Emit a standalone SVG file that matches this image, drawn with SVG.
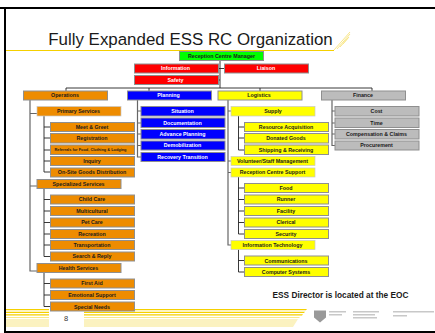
<svg xmlns="http://www.w3.org/2000/svg" width="435" height="333" viewBox="0 0 435 333">
<style>
text{font-family:"Liberation Sans",Arial,sans-serif}
.b{stroke:#8f8f8f;stroke-width:1}
.n{stroke:#c9c9c9;stroke-width:.7}
.o{fill:#ee8c00}.y{fill:#ffff00}.u{fill:#0000ff}.r{fill:#ff0000}.g{fill:#bcbcbc}.l{fill:#00ff00}
.t{font-size:5.3px;font-weight:bold;text-anchor:middle;fill:#1a1a1a}
.w{fill:#fff}
.c{fill:none;stroke:#222;stroke-width:.9}
.d{fill:none;stroke:#666;stroke-width:1.2}
.s{fill:#f5d000}
</style>
<defs>
<filter id="bl" x="-5%" y="-20%" width="110%" height="140%"><feGaussianBlur stdDeviation="0.7"/></filter>
</defs>
<rect width="435" height="333" fill="#fff"/>
<g id="frame">
<rect x="0" y="7" width="435" height="2" fill="#000"/>
<rect x="4" y="7" width="2" height="326" fill="#000"/>
<rect x="4" y="331" width="431" height="2" fill="#000"/>
</g>
<g id="decor">
<path d="M6 50.500H334" fill="none" stroke="#f5d000" stroke-width="1"/>
<path d="M334 50l16-18M337 49l13-15M340 47l9-10M343 44l5-6" fill="none" stroke="#f9e78a" stroke-width="1"/>
<path d="M6 309H49V310.300H6ZM84 309H307L306 310.300H84Z" class="s"/>
<path d="M6 311.800H49V313H6ZM84 311.800H305L304 313H84Z" class="s"/>
<path d="M6 314.300H49V315.500H6ZM84 314.300H303L302 315.500H84Z" class="s"/>
<path d="M6 317H49V318H6ZM84 317H300L299 318H84Z" fill="#f8e88a"/>
<path d="M6 319H49V327H6ZM84 319H298L293 327H84Z" fill="#fbf2c0"/>
<text x="66" y="321" font-size="7.500" text-anchor="middle" fill="#333">8</text>
</g>
<g id="logo" filter="url(#bl)" fill="#c8c8c8">
<path d="M314 310.500h12v7l-6 5-6-5Z" fill="#999"/>
<rect x="329" y="311" width="17" height="1.500"/>
<rect x="329" y="314" width="13" height="1.500"/>
<rect x="353" y="311" width="26" height="1.500"/>
<rect x="353" y="314" width="22" height="1.500"/>
<rect x="353" y="317" width="24" height="1.500"/>
<rect x="393" y="311" width="41" height="1.500"/>
<rect x="393" y="315" width="14" height="1.500"/>
</g>
<g id="connectors">
<path class="c" d="M220 60.500V88M218 68.500H224M218 80H220M66 91V88H372V91M149 88V91M260 88V91"/>
<path class="d" d="M30 100V271H37M30 113.500H37M30 186H37"/>
<path class="c" d="M44 116V172H50M44 127H50M44 138H50M44 150H50M44 161H50"/>
<path class="c" d="M44 188.500V256.500H50M44 199.500H50M44 211H50M44 222.500H50M44 234H50M44 245H50"/>
<path class="c" d="M44 272.500V306.500H50M44 283.500H50M44 295H50"/>
<path class="d" d="M137.500 100V157H141M137.500 111H141M137.500 123H141M137.500 134H141M137.500 145.500H141"/>
<path class="d" d="M228 100V245H231M228 111H231M228 161H231M228 172.500H231"/>
<path class="c" d="M238.500 116V150H244.500M238.500 127H244.500M238.500 138H244.500"/>
<path class="c" d="M238.500 177V234H244.500M238.500 188H244.500M238.500 199.500H244.500M238.500 211H244.500M238.500 222.500H244.500"/>
<path class="c" d="M238.500 249.500V272H244.500M238.500 260.500H244.500"/>
<path class="d" d="M332 100V145.500H335M332 111H335M332 123H335M332 134H335"/>
</g>
<g id="n-title"><text x="190.500" y="45" font-size="16.900" text-anchor="middle" fill="#1a1a1a">Fully Expanded ESS RC Organization</text></g>
<g id="n-manager"><rect class="l b" x="179.500" y="51.500" width="84" height="9"/><text class="t" x="221.500" y="58">Reception Centre Manager</text></g>
<g id="n-information"><rect class="r b" x="134.500" y="64" width="84" height="9"/><text class="t w" x="175.500" y="70">Information</text></g>
<g id="n-safety"><rect class="r b" x="134.500" y="75.500" width="84" height="9"/><text class="t w" x="175.500" y="82">Safety</text></g>
<g id="n-liaison"><rect class="r b" x="224.500" y="64" width="84" height="9"/><text class="t w" x="266" y="70">Liaison</text></g>
<g id="n-operations"><rect class="o b" x="23.500" y="91" width="84" height="9"/><text class="t" x="65" y="97">Operations</text></g>
<g id="n-planning"><rect class="u b" x="127.500" y="91" width="84" height="9"/><text class="t w" x="168.500" y="97">Planning</text></g>
<g id="n-logistics"><rect class="y b" x="218" y="91" width="84" height="9"/><text class="t" x="259" y="97">Logistics</text></g>
<g id="n-finance"><rect class="g b" x="321.500" y="91" width="84" height="9"/><text class="t" x="363" y="97">Finance</text></g>

<g id="n-primary"><rect class="o n" x="37" y="106.500" width="84" height="9.500"/><text class="t" x="78.500" y="113">Primary Services</text></g>
<g id="n-meet"><rect class="o b" x="50.500" y="122.500" width="84" height="9"/><text class="t" x="92" y="129">Meet &amp; Greet</text></g>
<g id="n-registration"><rect class="o b" x="50.500" y="133.500" width="84" height="9.500"/><text class="t" x="92" y="140">Registration</text></g>
<g id="n-referrals"><rect class="o b" x="50.500" y="145" width="84" height="9.500"/><text class="t" x="90.500" y="150.500" style="font-size:3.900px">Referrals for Food, Clothing &amp; Lodging</text></g>
<g id="n-inquiry"><rect class="o b" x="50.500" y="156.500" width="84" height="9"/><text class="t" x="92" y="163">Inquiry</text></g>
<g id="n-onsite"><rect class="o b" x="50.500" y="168" width="84" height="9"/><text class="t" x="92" y="174">On-Site Goods Distribution</text></g>

<g id="n-specialized"><rect class="o b" x="37" y="179.500" width="84" height="9"/><text class="t" x="78.500" y="186">Specialized Services</text></g>
<g id="n-child"><rect class="o b" x="50.500" y="195" width="84" height="9"/><text class="t" x="92" y="201">Child Care</text></g>
<g id="n-multi"><rect class="o b" x="50.500" y="206.500" width="84" height="9"/><text class="t" x="92" y="213">Multicultural</text></g>
<g id="n-pet"><rect class="o b" x="50.500" y="218" width="84" height="9"/><text class="t" x="92" y="224">Pet Care</text></g>
<g id="n-recreation"><rect class="o b" x="50.500" y="229.500" width="84" height="9"/><text class="t" x="92" y="236">Recreation</text></g>
<g id="n-transport"><rect class="o b" x="50.500" y="240.500" width="84" height="9"/><text class="t" x="92" y="247">Transportation</text></g>
<g id="n-search"><rect class="o b" x="50.500" y="252" width="84" height="9"/><text class="t" x="92" y="258">Search &amp; Reply</text></g>

<g id="n-health"><rect class="o b" x="37" y="263.500" width="84" height="9"/><text class="t" x="78.500" y="270">Health Services</text></g>
<g id="n-firstaid"><rect class="o b" x="50.500" y="279" width="84" height="9"/><text class="t" x="92" y="285">First Aid</text></g>
<g id="n-emotional"><rect class="o b" x="50.500" y="290.500" width="84" height="9"/><text class="t" x="92" y="297">Emotional Support</text></g>
<g id="n-special"><rect class="o b" x="50.500" y="302" width="84" height="9"/><text class="t" x="92" y="309">Special Needs</text></g>

<g id="n-situation"><rect class="u b" x="141" y="106.500" width="84" height="9.500"/><text class="t w" x="182.500" y="113">Situation</text></g>
<g id="n-documentation"><rect class="u b" x="141" y="118" width="84" height="9.500"/><text class="t w" x="182.500" y="125">Documentation</text></g>
<g id="n-advance"><rect class="u b" x="141" y="129.500" width="84" height="9.500"/><text class="t w" x="182.500" y="136">Advance Planning</text></g>
<g id="n-demob"><rect class="u b" x="141" y="141" width="84" height="9"/><text class="t w" x="182.500" y="147">Demobilization</text></g>
<g id="n-recovery"><rect class="u b" x="141" y="152.500" width="84" height="9"/><text class="t w" x="182.500" y="159">Recovery Transition</text></g>

<g id="n-supply"><rect class="y n" x="231" y="106.500" width="84" height="9.500"/><text class="t" x="273" y="113">Supply</text></g>
<g id="n-resource"><rect class="y b" x="244.500" y="122.500" width="84" height="9"/><text class="t" x="286" y="129">Resource Acquisition</text></g>
<g id="n-donated"><rect class="y b" x="244.500" y="133.500" width="84" height="9.500"/><text class="t" x="286" y="140">Donated Goods</text></g>
<g id="n-shipping"><rect class="y b" x="244.500" y="145" width="84" height="9.500"/><text class="t" x="286" y="152">Shipping &amp; Receiving</text></g>
<g id="n-volunteer"><rect class="y n" x="231" y="156.500" width="84" height="9"/><text class="t" x="272.500" y="163">Volunteer/Staff Management</text></g>
<g id="n-rcsupport"><rect class="y n" x="231" y="168" width="84" height="9"/><text class="t" x="272.500" y="174">Reception Centre Support</text></g>
<g id="n-food"><rect class="y b" x="244.500" y="183.500" width="84" height="9"/><text class="t" x="286" y="190">Food</text></g>
<g id="n-runner"><rect class="y b" x="244.500" y="195" width="84" height="9"/><text class="t" x="286" y="201">Runner</text></g>
<g id="n-facility"><rect class="y b" x="244.500" y="206.500" width="84" height="9"/><text class="t" x="286" y="213">Facility</text></g>
<g id="n-clerical"><rect class="y b" x="244.500" y="218" width="84" height="9"/><text class="t" x="286" y="224">Clerical</text></g>
<g id="n-security"><rect class="y b" x="244.500" y="229.500" width="84" height="9"/><text class="t" x="286" y="236">Security</text></g>
<g id="n-infotech"><rect class="y n" x="231" y="240.500" width="84" height="9"/><text class="t" x="272.500" y="247">Information Technology</text></g>
<g id="n-comm"><rect class="y b" x="244.500" y="256" width="84" height="9"/><text class="t" x="286" y="263">Communications</text></g>
<g id="n-computer"><rect class="y b" x="244.500" y="267.500" width="84" height="9"/><text class="t" x="286" y="274">Computer Systems</text></g>

<g id="n-cost"><rect class="g b" x="335" y="106.500" width="84" height="9.500"/><text class="t" x="376.500" y="113">Cost</text></g>
<g id="n-time"><rect class="g b" x="335" y="118" width="84" height="9.500"/><text class="t" x="376.500" y="125">Time</text></g>
<g id="n-comp"><rect class="g b" x="335" y="129.500" width="84" height="9.500"/><text class="t" x="376.500" y="136">Compensation &amp; Claims</text></g>
<g id="n-procurement"><rect class="g b" x="335" y="141" width="84" height="9"/><text class="t" x="376.500" y="147">Procurement</text></g>

<g id="note"><text x="340.500" y="297.500" font-size="8.300" font-weight="bold" text-anchor="middle" fill="#1a1a1a">ESS Director is located at the EOC</text></g>
</svg>
